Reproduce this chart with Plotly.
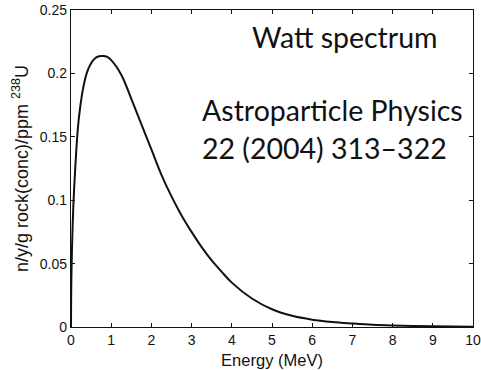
import plotly.graph_objects as go

# Watt fission spectrum of 238U neutrons (per gram rock per ppm U)
energy_mev = [0, 0.01, 0.03, 0.06, 0.1, 0.15, 0.2, 0.3, 0.4, 0.5, 0.6, 0.7, 0.8,
              0.9, 1.0, 1.25, 1.5, 1.75, 2.0, 2.25, 2.5, 2.75, 3.0, 3.25, 3.5,
              3.75, 4.0, 4.5, 5.0, 5.5, 6.0, 6.5, 7.0, 7.5, 8.0, 8.5, 9.0, 9.5, 10]
neutron_yield = [0, 0.040, 0.068, 0.097, 0.122, 0.148, 0.166, 0.188, 0.201, 0.208,
                 0.212, 0.2135, 0.2137, 0.213, 0.2105, 0.199, 0.180, 0.160, 0.140,
                 0.120, 0.103, 0.088, 0.075, 0.063, 0.0525, 0.0435, 0.035, 0.0225,
                 0.014, 0.0088, 0.0058, 0.0040, 0.0028, 0.0018, 0.0012, 0.0008,
                 0.0005, 0.0003, 0.0002]

x_ticks = [0, 1, 2, 3, 4, 5, 6, 7, 8, 9, 10]
y_ticks = [0, 0.05, 0.1, 0.15, 0.2, 0.25]
y_tick_text = ["0", "0.05", "0.1", "0.15", "0.2", "0.25"]

fig = go.Figure()
fig.add_trace(go.Scatter(
    x=energy_mev, y=neutron_yield, mode="lines",
    line=dict(color="#111111", width=2, shape="spline", smoothing=1.0),
    showlegend=False, hoverinfo="skip",
))

sans = "Liberation Sans, Arial, sans-serif"
common = dict(
    showline=True, linecolor="#111111", linewidth=1.3, mirror="ticks",
    ticks="inside", ticklen=4, tickcolor="#111111", tickwidth=1,
    showgrid=False, zeroline=False, automargin=False,
    tickfont=dict(family=sans, size=14, color="#111111"),
)

fig.update_xaxes(range=[0, 10], tickvals=x_ticks,
                 title=dict(text="Energy (MeV)", font=dict(family=sans, size=16.5, color="#111111"),
                            standoff=7),
                 **common)
fig.update_yaxes(range=[0, 0.25], tickvals=y_ticks, ticktext=y_tick_text,
                 title=dict(text="n/y/g rock(conc)/ppm <sup>238</sup>U",
                            font=dict(family=sans, size=18, color="#111111"), standoff=6),
                 **common)

note_font = dict(family="Lato, Open Sans, sans-serif", size=28.5, color="#111111")
fig.add_annotation(text="Watt spectrum", xref="paper", yref="paper", x=0.918, y=0.915,
                   xanchor="right", yanchor="middle", showarrow=False, font=note_font)
fig.add_annotation(text="Astroparticle Physics", xref="paper", yref="paper", x=0.321, y=0.683,
                   xanchor="left", yanchor="middle", showarrow=False, font=note_font)
fig.add_annotation(text="22 (2004) 313\u2013322", xref="paper", yref="paper", x=0.321, y=0.566,
                   xanchor="left", yanchor="middle", showarrow=False, font=note_font)

fig.update_layout(
    width=481, height=370,
    margin=dict(l=71, r=8, t=10, b=43),
    paper_bgcolor="white", plot_bgcolor="white",
)

fig.write_html("out.html")
